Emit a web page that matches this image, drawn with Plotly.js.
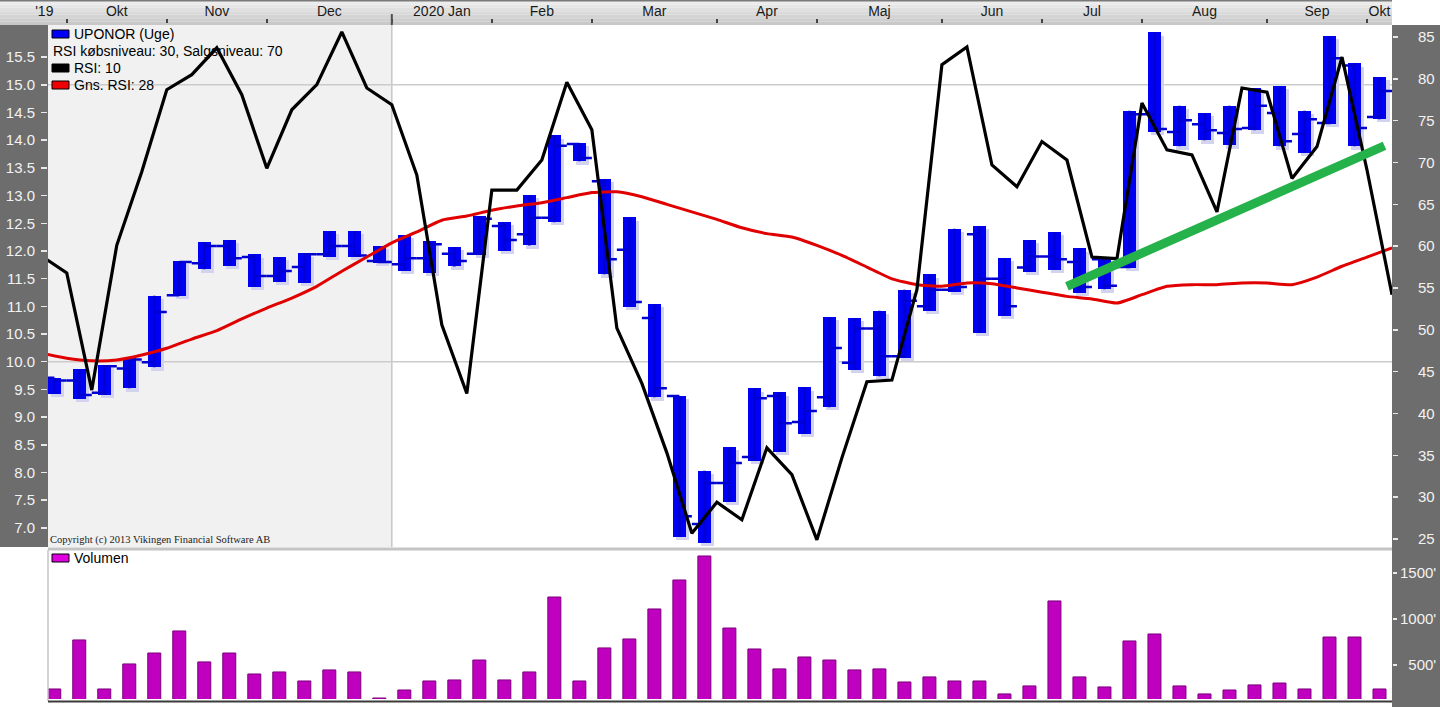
<!DOCTYPE html>
<html>
<head>
<meta charset="utf-8">
<script src="https://cdn.plot.ly/plotly-3.0.1.min.js"></script>
<style>
html,body{margin:0;padding:0;background:#fff;}
#chart{width:1440px;height:707px;}
</style>
</head>
<body>
<div id="chart"></div>
<script>
// ---- DATA (weekly, UPONOR) ----
const weekIdx = Array.from({length:54}, (_, i) => i);
const openP  = [9.71,9.66,9.44,9.88,9.99,11.20,11.78,12.09,11.89,11.55,11.71,11.94,12.09,11.82,11.76,11.87,11.95,11.95,12.45,12.30,12.60,13.93,13.26,12.02,10.79,9.38,7.07,7.81,8.28,9.38,8.91,9.36,9.98,10.60,10.10,11.00,11.30,12.30,11.50,11.70,11.90,11.80,11.85,11.71,14.47,14.15,14.29,14.13,14.22,14.49,14.11,14.31,15.35,14.42];
const highP  = [9.71,9.87,9.94,10.06,11.19,11.82,12.16,12.20,11.94,11.89,11.96,12.36,12.36,12.09,12.29,12.18,12.07,12.63,12.52,13.01,14.09,13.95,13.30,12.61,11.04,9.38,8.03,8.46,9.52,9.45,9.54,10.81,10.79,10.92,11.30,11.58,12.40,12.45,11.87,12.20,12.34,12.05,11.87,14.53,15.95,14.62,14.49,14.62,14.94,14.98,14.53,15.88,15.39,15.14];
const lowP   = [9.42,9.33,9.40,9.52,9.90,11.19,11.67,11.73,11.35,11.44,11.42,11.89,11.89,11.78,11.64,11.60,11.72,11.93,12.00,12.10,12.52,13.62,11.58,10.99,9.36,6.84,6.73,7.47,8.21,8.37,8.70,9.18,9.85,9.74,10.07,10.92,11.26,10.52,10.83,11.62,11.66,11.24,11.31,11.69,14.15,13.89,14.00,13.91,14.18,13.89,13.77,14.29,13.89,14.38];
const closeP = [9.66,9.40,9.92,10.04,10.90,11.80,12.09,11.87,11.55,11.64,11.94,12.09,11.92,11.80,11.87,12.12,11.82,12.58,12.20,12.60,13.90,13.68,11.85,11.08,9.52,7.21,7.81,8.17,9.34,8.89,9.11,10.25,10.60,10.10,11.10,11.30,11.35,11.50,11.00,11.90,11.85,11.35,11.37,14.47,14.20,14.36,14.18,14.20,14.62,13.98,14.38,15.48,14.22,14.89];
const volume = [239,772,239,511,630,870,533,630,402,424,326,446,424,141,228,326,337,554,337,424,1239,326,685,783,1109,1424,1685,902,674,457,587,554,446,457,315,370,326,326,185,272,1196,370,261,761,837,272,185,228,283,304,239,804,804,239];
// RSI series: one value per week, week -1 .. 53 (plotted at week end)
const rsiWeeks = Array.from({length:55}, (_, i) => i - 1);
const rsi10 = [58.8,56.8,42.8,60.1,68.9,78.7,80.5,83.7,78.1,69.3,76.3,79.3,85.6,78.9,76.9,68.5,50.6,42.4,66.7,66.7,70.3,79.6,73.9,50.2,43.6,35.3,25.7,29.4,27.3,35.9,32.7,24.9,34.7,43.8,44.0,54.8,81.7,83.8,69.7,67.1,72.5,70.3,58.7,58.5,77.1,71.5,70.9,64.1,78.9,78.4,68.1,71.9,82.6,69.1,54.2];
const rsiAvg28 = [47.2,46.6,46.3,46.4,47.0,47.8,48.9,49.9,51.3,52.6,53.8,55.2,57.0,58.7,60.4,61.7,63.1,63.6,64.3,64.8,65.2,65.8,66.4,66.5,65.9,65.0,64.1,63.2,62.2,61.5,61.1,60.1,58.9,57.5,56.1,55.4,55.2,55.6,55.5,55.0,54.5,54.0,53.7,53.2,54.2,55.2,55.4,55.4,55.6,55.6,55.4,56.3,57.6,58.7,59.8];
// Hand-drawn trend line (week, RSI)
const trendWeeks = [40.5, 53.2];
const trendRsi = [55.2, 72.0];
// Month labels
const monthLabels = ["'19","Okt","Nov","Dec","2020 Jan","Feb","Mar","Apr","Maj","Jun","Jul","Aug","Sep","Okt"];
const monthFirstWeek = [-1,1,5,9,14,18,22,27,31,36,40,44,49,53];
const monthLastWeek  = [0,4,8,13,17,21,26,30,35,39,43,48,52,53];
const priceTicks = [7.0,7.5,8.0,8.5,9.0,9.5,10.0,10.5,11.0,11.5,12.0,12.5,13.0,13.5,14.0,14.5,15.0,15.5];
const rsiTicks = [25,30,35,40,45,50,55,60,65,70,75,80,85];
const volTickVals = [500,1000,1500];
const volTickText = ["\u2007500'","1000'","1500'"];

// ---- helpers for layout ----
const W = 1440, H = 707;
const px = x => x / W;
const py = y => 1 - y / H;
const X0 = -0.25, X1 = 53.5;

const monthCenters = monthFirstWeek.map((f, i) => (f + monthLastWeek[i]) / 2 + (i === 0 ? 0.1 : 0));
const monthBounds = monthFirstWeek.slice(1).map(f => f - 0.5);
const rsiX = rsiWeeks.map(w => w + 0.5);

const traces = [
  { // shadow
    type:'bar', x: weekIdx, base: lowP.map(v => v - 0.06), y: highP.map((h, i) => h - lowP[i]),
    width: 0.52, offset: -0.12, marker:{color:'#d3d3ef', line:{width:0}},
    xaxis:'x', yaxis:'y', hoverinfo:'skip'
  },
  { // bodies
    type:'bar', x: weekIdx, base: lowP, y: highP.map((h, i) => h - lowP[i]),
    width: 0.52, marker:{color:'#0000f4', line:{width:0}},
    xaxis:'x', yaxis:'y', hoverinfo:'skip'
  },
  { // open/close ticks
    type:'ohlc', x: weekIdx, open: openP, high: highP, low: lowP, close: closeP,
    tickwidth: 0.5,
    increasing:{line:{color:'#0000d0', width:2.5}},
    decreasing:{line:{color:'#0000d0', width:2.5}},
    xaxis:'x', yaxis:'y', hoverinfo:'skip'
  },
  {
    type:'scatter', mode:'lines', x: rsiX, y: rsiAvg28,
    line:{color:'#e00000', width:3, shape:'spline', smoothing:0.5},
    xaxis:'x', yaxis:'y2', hoverinfo:'skip'
  },
  {
    type:'scatter', mode:'lines', x: rsiX, y: rsi10,
    line:{color:'#000000', width:3.2},
    xaxis:'x', yaxis:'y2', hoverinfo:'skip'
  },
  {
    type:'scatter', mode:'lines', x: trendWeeks, y: trendRsi,
    line:{color:'#25b24a', width:9},
    xaxis:'x', yaxis:'y2', hoverinfo:'skip'
  },
  {
    type:'bar', x: weekIdx, y: volume, width: 0.52,
    marker:{color:'#bf00bf', line:{color:'#7d007d', width:1}},
    xaxis:'x2', yaxis:'y3', hoverinfo:'skip'
  },
  {
    type:'scatter', mode:'markers', x:[0], y:[-5], marker:{opacity:0},
    xaxis:'x3', yaxis:'y4', hoverinfo:'skip'
  }
];

const tickFontL = {family:'Liberation Sans, Arial, sans-serif', size:15, color:'#f2f2f2'};

const shapes = [];
// dark side panels
shapes.push({type:'rect', xref:'paper', yref:'paper', x0:0, x1:px(48), y0:py(547), y1:py(25), fillcolor:'#6d6d6d', line:{width:0}, layer:'below'});
shapes.push({type:'rect', xref:'paper', yref:'paper', x0:px(1392), x1:1, y0:0, y1:py(25), fillcolor:'#6d6d6d', line:{width:0}, layer:'below'});
// header gradient
const hdr = ['#ececec','#e6e6e6','#e0e0e0','#dadada','#d4d4d4','#cecece','#c8c8c8'];
hdr.forEach((c, k) => {
  const a = 1 + k * 24 / hdr.length, b = 1 + (k + 1) * 24 / hdr.length;
  shapes.push({type:'rect', xref:'paper', yref:'paper', x0:0, x1:px(1392), y0:py(b), y1:py(a), fillcolor:c, line:{width:0}, layer:'below'});
});
shapes.push({type:'rect', xref:'paper', yref:'paper', x0:0, x1:px(1392), y0:py(1.5), y1:1, fillcolor:'#7a7a7a', line:{width:0}, layer:'below'});
// 2019 shading + year separator
shapes.push({type:'rect', xref:'x', yref:'paper', x0:X0, x1:monthBounds[3], y0:py(547), y1:py(25), fillcolor:'#f1f1f1', line:{width:0}, layer:'below'});
shapes.push({type:'line', xref:'x', yref:'paper', x0:monthBounds[3], x1:monthBounds[3], y0:py(547), y1:py(25), line:{color:'#c6c6c6', width:1.5}, layer:'below'});
shapes.push({type:'line', xref:'x', yref:'paper', x0:monthBounds[3], x1:monthBounds[3], y0:py(25), y1:py(14), line:{color:'#505050', width:2}});
// price grid lines
[10, 15].forEach(v => shapes.push({type:'line', xref:'x', yref:'y', x0:X0, x1:X1, y0:v, y1:v, line:{color:'#cbcbcb', width:1.5}, layer:'below'}));
// panel separators
shapes.push({type:'line', xref:'paper', yref:'paper', x0:px(48), x1:px(1392), y0:py(549), y1:py(549), line:{color:'#c4c4c4', width:3}});
shapes.push({type:'line', xref:'paper', yref:'paper', x0:px(48), x1:px(48), y0:py(701), y1:py(550), line:{color:'#c4c4c4', width:1.5}});
shapes.push({type:'line', xref:'paper', yref:'paper', x0:px(48), x1:px(1392), y0:py(701.5), y1:py(701.5), line:{color:'#3a3a3a', width:2}});
// legend swatches
const sw = (y, c) => shapes.push({type:'rect', xref:'paper', yref:'paper', x0:px(52), x1:px(69), y0:py(y + 8), y1:py(y), fillcolor:c, line:{color:'#000', width:1}});
sw(30, '#0000f4'); sw(64, '#000000'); sw(81, '#f00000'); sw(554, '#e000e0');

const font = {family:'Liberation Sans, Arial, sans-serif', size:14, color:'#000'};
const ann = (x, y, text, f) => ({xref:'paper', yref:'paper', x:px(x), y:py(y), xanchor:'left', yanchor:'middle', text, showarrow:false, font: f || font});
const annotations = [
  ann(72, 34, 'UPONOR (Uge)'),
  ann(51, 51, 'RSI købsniveau: 30, Salgsniveau: 70'),
  ann(72, 68, 'RSI: 10'),
  ann(72, 85, 'Gns. RSI: 28'),
  ann(72, 558, 'Volumen'),
  ann(48, 540, 'Copyright (c) 2013 Vikingen Financial Software AB', {family:'Liberation Serif, Times New Roman, serif', size:10.5, color:'#222'})
];

const layout = {
  width: W, height: H,
  margin:{l:0, r:0, t:0, b:0, pad:0},
  paper_bgcolor:'#ffffff', plot_bgcolor:'#ffffff',
  showlegend:false, barmode:'overlay', bargap:0,
  xaxis:{domain:[px(48), px(1392)], range:[X0, X1], anchor:'y', visible:false, fixedrange:true, rangeslider:{visible:false}},
  xaxis2:{domain:[px(48), px(1392)], range:[X0, X1], anchor:'y3', visible:false, fixedrange:true},
  xaxis3:{domain:[0, px(1392)], range:[-54.3/25, X1], anchor:'y4', side:'top',
    tickmode:'array', tickvals: monthCenters, ticktext: monthLabels, ticks:'', ticklabelstandoff:4,
    tickfont:{family:'Liberation Sans, Arial, sans-serif', size:14, color:'#1a1a1a'},
    showgrid:false, zeroline:false, showline:false,
    minor:{tickmode:'array', tickvals: monthBounds, ticks:'outside', ticklen:4, tickwidth:2, tickcolor:'#444', showgrid:false}},
  yaxis:{domain:[py(547), py(25)], range:[6.655, 16.08], anchor:'x', side:'left',
    tickmode:'array', tickvals: priceTicks, tickformat:'.1f', ticks:'outside', ticklen:6, tickcolor:'#e8e8e8', tickwidth:1.5,
    ticklabelstandoff:3, tickfont: tickFontL, showgrid:false, zeroline:false, showline:false},
  yaxis2:{overlaying:'y', range:[24.05, 86.43], side:'right', anchor:'x',
    tickmode:'array', tickvals: rsiTicks, ticks:'outside', ticklen:5, tickcolor:'#e8e8e8', tickwidth:1.5,
    ticklabelstandoff:17, tickfont: tickFontL, showgrid:false, zeroline:false, showline:false},
  yaxis3:{domain:[py(699), py(550)], range:[130, 1750], anchor:'x2', side:'right',
    tickmode:'array', tickvals: volTickVals, ticktext: volTickText,
    ticks:'outside', ticklen:4, tickcolor:'#e8e8e8', tickwidth:1.5, ticklabelstandoff:0,
    tickfont: tickFontL, showgrid:false, zeroline:false, showline:false},
  yaxis4:{domain:[py(25), py(24)], range:[0, 1], anchor:'x3', visible:false, fixedrange:true},
  shapes, annotations
};

Plotly.newPlot('chart', traces, layout, {displayModeBar:false, staticPlot:true});
</script>
</body>
</html>
